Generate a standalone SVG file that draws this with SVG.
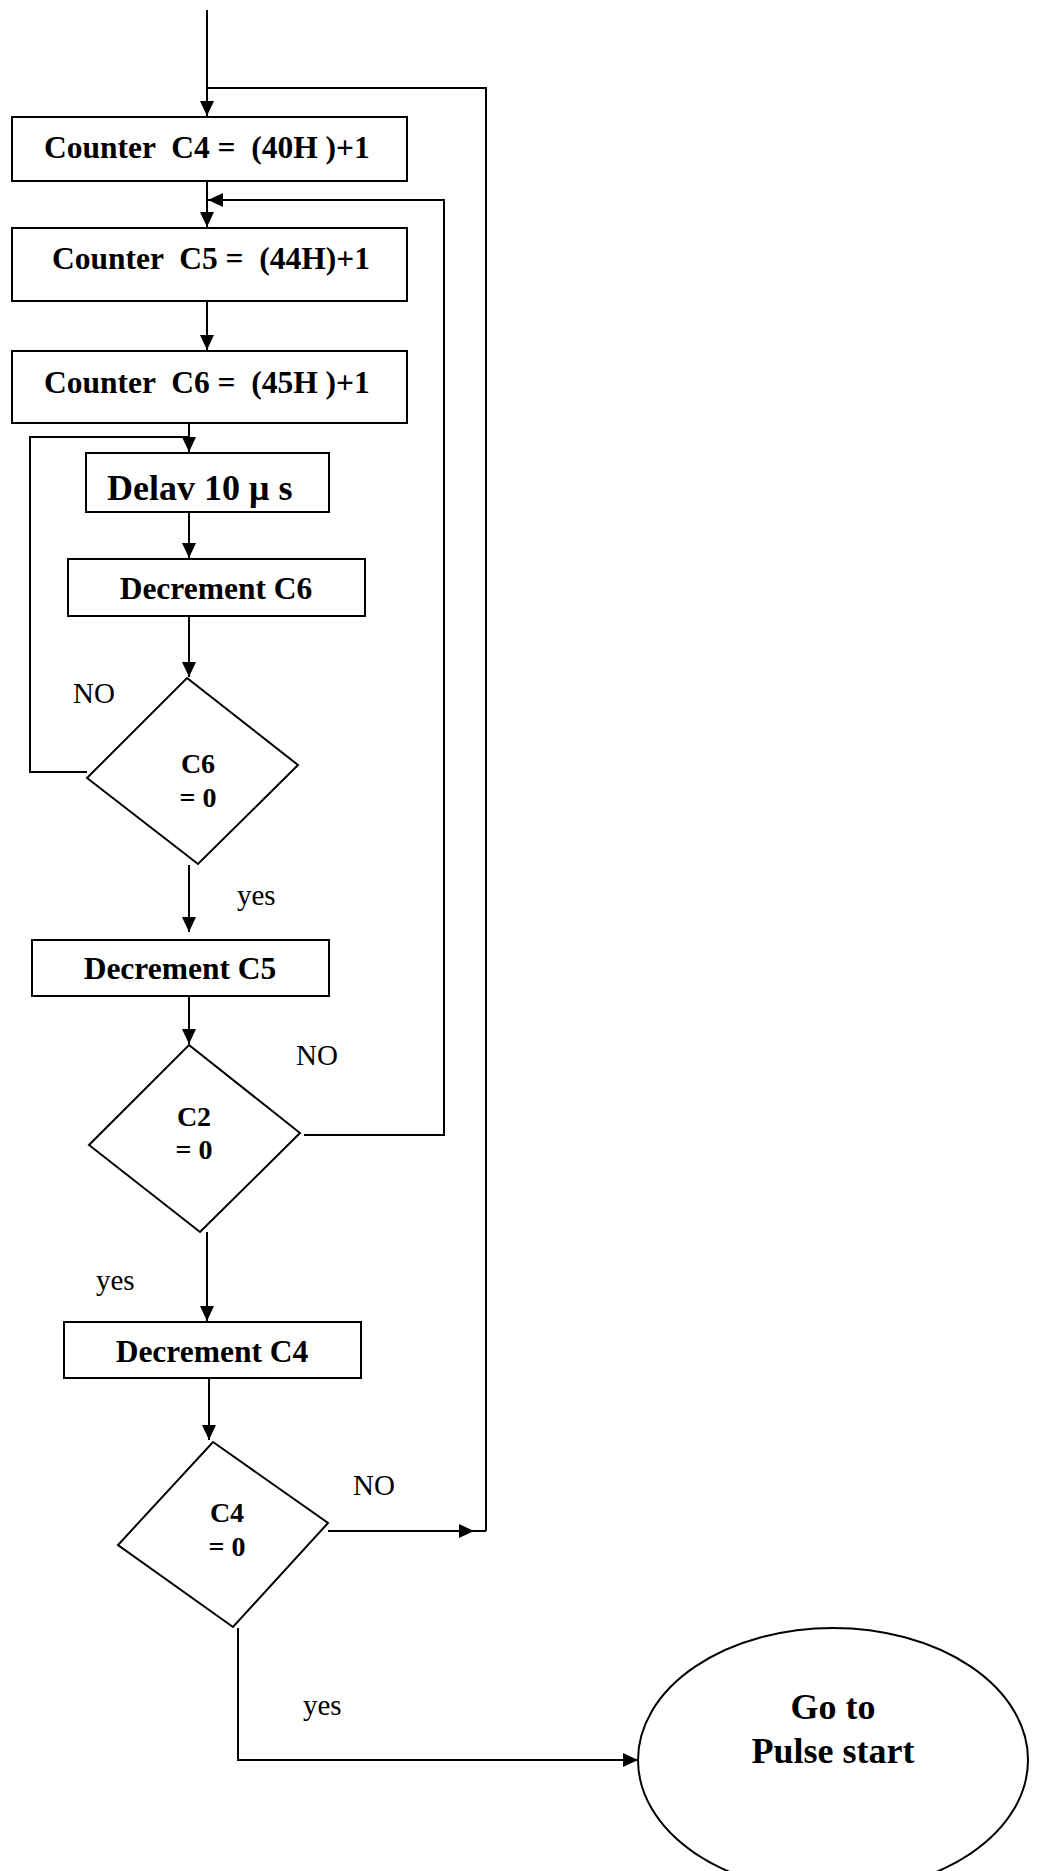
<svg xmlns="http://www.w3.org/2000/svg" width="1037" height="1871" viewBox="0 0 1037 1871">
<style>
.box{fill:#fff;stroke:#000;stroke-width:2}
.ln{fill:none;stroke:#000;stroke-width:2}
.bt{font-family:"Liberation Serif","Times New Roman",serif;font-weight:bold;fill:#000}
.lb{font-family:"Liberation Serif","Times New Roman",serif;font-size:29px;fill:#000}
</style>
<defs>
<marker id="ah" markerUnits="userSpaceOnUse" markerWidth="15" markerHeight="14" refX="15" refY="7" orient="auto">
<path d="M0,0 L15,7 L0,14 Z" fill="#000"/>
</marker>
</defs>
<rect width="1037" height="1871" fill="#fff"/>
<g id="connectors">
<line class="ln" x1="207" y1="10" x2="207" y2="116" marker-end="url(#ah)"/>
<polyline class="ln" points="207,88 486,88 486,1531"/>
<line class="ln" x1="207" y1="181" x2="207" y2="227" marker-end="url(#ah)"/>
<polyline class="ln" points="304,1135 444,1135 444,200 208,200" marker-end="url(#ah)"/>
<line class="ln" x1="207" y1="301" x2="207" y2="350" marker-end="url(#ah)"/>
<line class="ln" x1="189" y1="423" x2="189" y2="452" marker-end="url(#ah)"/>
<polyline class="ln" points="87,772 30,772 30,437 189,437"/>
<line class="ln" x1="189" y1="512" x2="189" y2="558" marker-end="url(#ah)"/>
<line class="ln" x1="189" y1="616" x2="189" y2="677" marker-end="url(#ah)"/>
<line class="ln" x1="189" y1="865" x2="189" y2="932" marker-end="url(#ah)"/>
<line class="ln" x1="189" y1="996" x2="189" y2="1044" marker-end="url(#ah)"/>
<line class="ln" x1="207" y1="1232" x2="207" y2="1321" marker-end="url(#ah)"/>
<line class="ln" x1="209" y1="1378" x2="209" y2="1440" marker-end="url(#ah)"/>
<line class="ln" x1="328" y1="1531" x2="474" y2="1531" marker-end="url(#ah)"/>
<line class="ln" x1="474" y1="1531" x2="486" y2="1531"/>
<polyline class="ln" points="238,1628 238,1760 638,1760" marker-end="url(#ah)"/>
</g>
<g id="n1"><rect class="box" x="12" y="117" width="395" height="64"/>
<text class="bt" x="44" y="158" font-size="31.5" xml:space="preserve">Counter  C4 =  (40H )+1</text></g>
<g id="n2"><rect class="box" x="12" y="228" width="395" height="73"/>
<text class="bt" x="52" y="269" font-size="31.5" xml:space="preserve">Counter  C5 =  (44H)+1</text></g>
<g id="n3"><rect class="box" x="12" y="351" width="395" height="72"/>
<text class="bt" x="44" y="393" font-size="31.5" xml:space="preserve">Counter  C6 =  (45H )+1</text></g>
<g id="n4"><rect class="box" x="86" y="453" width="243" height="59"/>
<text class="bt" x="107" y="500" font-size="36">Delav 10 μ s</text></g>
<g id="n5"><rect class="box" x="68" y="559" width="297" height="57"/>
<text class="bt" x="216" y="599" font-size="31.5" text-anchor="middle">Decrement C6</text></g>
<g id="n6"><polygon class="box" points="187,678 298,765 198,864 87,778"/>
<text class="bt" x="198" y="773" font-size="28" text-anchor="middle">C6</text>
<text class="bt" x="198" y="807" font-size="28" text-anchor="middle">= 0</text></g>
<g id="n7"><rect class="box" x="32" y="940" width="297" height="56"/>
<text class="bt" x="180" y="979" font-size="31.5" text-anchor="middle">Decrement C5</text></g>
<g id="n8"><polygon class="box" points="189,1045 300,1133 200,1232 89,1145"/>
<text class="bt" x="194" y="1126" font-size="28" text-anchor="middle">C2</text>
<text class="bt" x="194" y="1159" font-size="28" text-anchor="middle">= 0</text></g>
<g id="n9"><rect class="box" x="64" y="1322" width="297" height="56"/>
<text class="bt" x="212" y="1362" font-size="31.5" text-anchor="middle">Decrement C4</text></g>
<g id="n10"><polygon class="box" points="213,1442 328,1523 233,1627 118,1545"/>
<text class="bt" x="227" y="1522" font-size="28" text-anchor="middle">C4</text>
<text class="bt" x="227" y="1556" font-size="28" text-anchor="middle">= 0</text></g>
<g id="n11"><ellipse class="box" cx="833" cy="1760" rx="195" ry="132"/>
<text class="bt" x="833" y="1719" font-size="36" text-anchor="middle">Go to</text>
<text class="bt" x="833" y="1763" font-size="36" text-anchor="middle">Pulse start</text></g>
<g id="labels">
<text class="lb" x="73" y="703">NO</text>
<text class="lb" x="237" y="905">yes</text>
<text class="lb" x="296" y="1065">NO</text>
<text class="lb" x="96" y="1290">yes</text>
<text class="lb" x="353" y="1495">NO</text>
<text class="lb" x="303" y="1715">yes</text>
</g>
</svg>
